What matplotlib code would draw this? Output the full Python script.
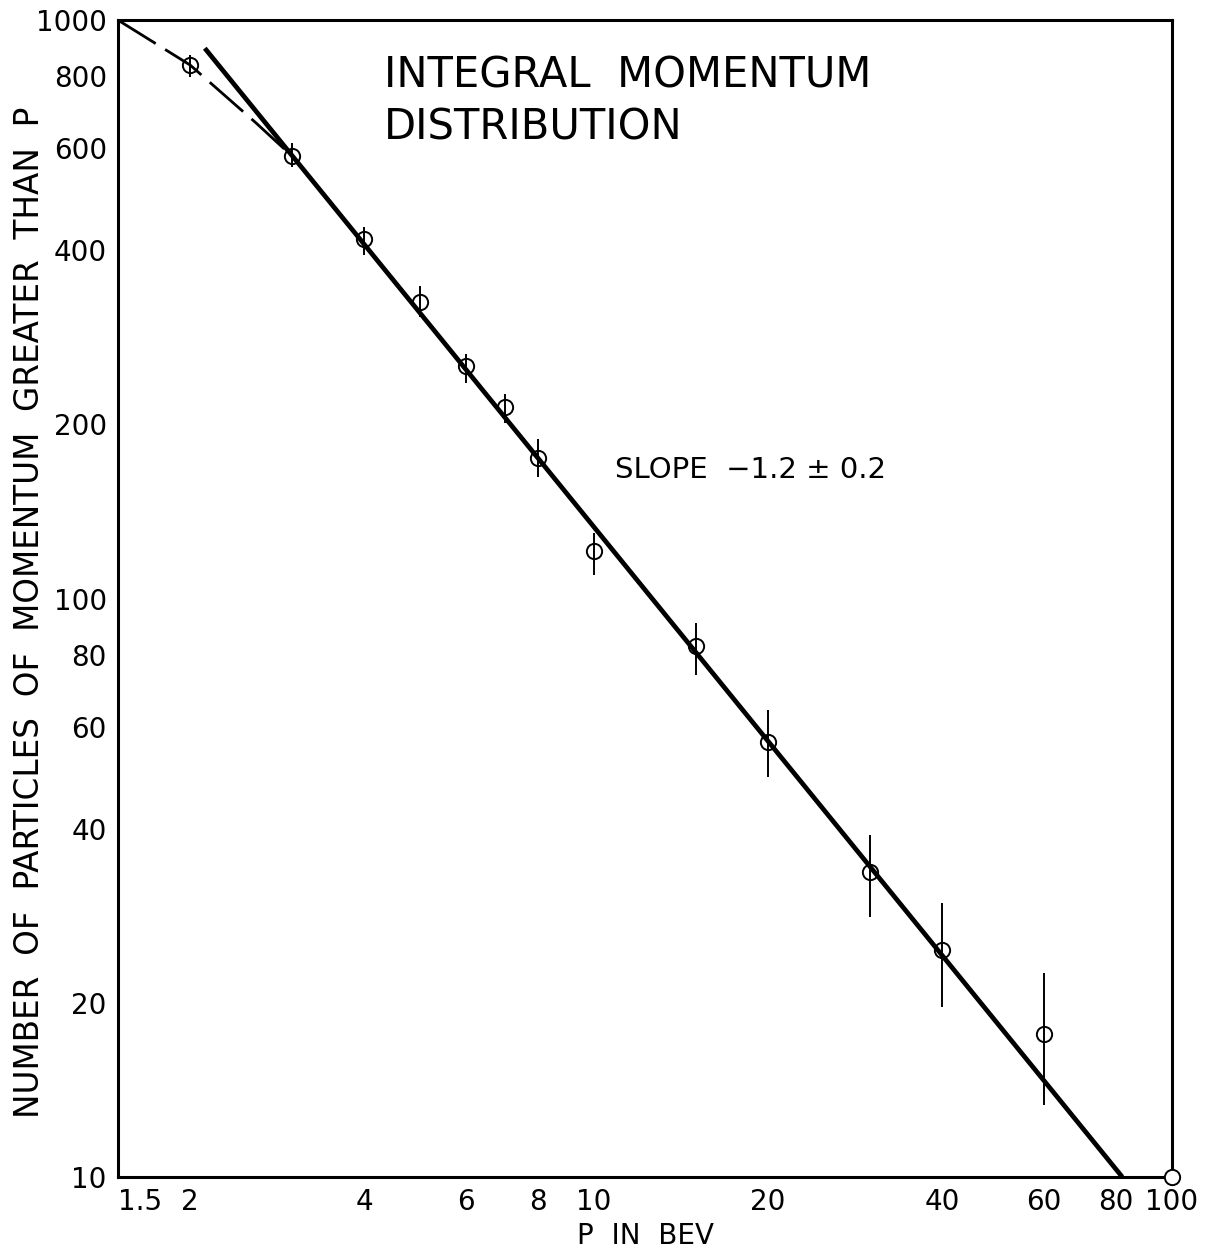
import numpy as np
import matplotlib
matplotlib.use("Agg")
import matplotlib.pyplot as plt

# measured points (P in BeV, number of particles with momentum > P)
p_vals = np.array([2, 3, 4, 5, 6, 7, 8, 10, 15, 20, 30, 40, 60])
n_vals = np.array([836, 582, 418, 325, 252, 214, 175, 121, 82.8, 56.5, 33.7, 24.7, 17.7])
n_low = np.array([797, 557, 393, 307, 236, 201, 162, 110, 73.8, 49.1, 28.1, 19.7, 13.3])
n_high = np.array([870, 613, 439, 347, 265, 226, 189, 130, 90.7, 64.2, 39.0, 29.8, 22.5])

# lone point at the corner
end_p = [100]
end_n = [10]

# straight fit, slope -1.2
fit_p = [2.12, 82]
fit_n = [894, 10]

# dashed low-momentum curve
curve_p = [1.5, 2.0, 2.6, 3.0]
curve_n = [1000, 836, 664, 582]

x_ticks = [1.5, 2, 4, 6, 8, 10, 20, 40, 60, 80, 100]
x_labels = ["1.5", "2", "4", "6", "8", "10", "20", "40", "60", "80", "100"]
y_ticks = [10, 20, 40, 60, 80, 100, 200, 400, 600, 800, 1000]
y_labels = ["10", "20", "40", "60", "80", "100", "200", "400", "600", "800", "1000"]

plt.rcParams['font.family'] = ['DejaVu Sans']

fig = plt.figure(figsize=(12.2, 12.55), dpi=100)
ax = fig.add_axes([0.0967, 0.0622, 0.864, 0.9218])
ax.set_xscale('log')
ax.set_yscale('log')
ax.set_xlim(1.5, 100)
ax.set_ylim(10, 1000)

# fit line and dashed curve
ax.plot(fit_p, fit_n, color='black', lw=3.4, solid_capstyle='butt', zorder=3)
ax.plot(curve_p, curve_n, color='black', lw=2, dashes=(16, 4), zorder=3)

# error bars + open circles
ax.vlines(p_vals, n_low, n_high, color='black', lw=1.4, zorder=4)
ax.plot(p_vals, n_vals, 'o', ms=11, mfc='none', mec='black', mew=1.4, zorder=5)
ax.plot(end_p, end_n, 'o', ms=11, mfc='white', mec='black', mew=1.4,
        zorder=6, clip_on=False)

# axes styling
for s in ax.spines.values():
    s.set_linewidth(2.2)
    s.set_color('black')
ax.minorticks_off()
ax.set_xticks(x_ticks)
ax.set_xticklabels(x_labels)
ax.set_yticks(y_ticks)
ax.set_yticklabels(y_labels)
ax.tick_params(length=0, labelsize=20, pad=8)
ax.get_xticklabels()[0].set_ha('left')

ax.set_xlabel("P  IN  BEV", fontsize=20, labelpad=4)
fig.text(30 / 1220, 1 - 612 / 1255,
         "NUMBER  OF  PARTICLES  OF  MOMENTUM  GREATER  THAN  P",
         fontsize=23.5, rotation=90, ha='center', va='center')

ax.text(0.2525, 0.930, "INTEGRAL  MOMENTUM\nDISTRIBUTION", transform=ax.transAxes,
        fontsize=30, ha='left', va='center', linespacing=1.3)
ax.text(0.472, 0.611, "SLOPE  \u22121.2 \u00b1 0.2", transform=ax.transAxes,
        fontsize=21, ha='left', va='center')

fig.savefig("out.png", dpi=100, facecolor='white')
